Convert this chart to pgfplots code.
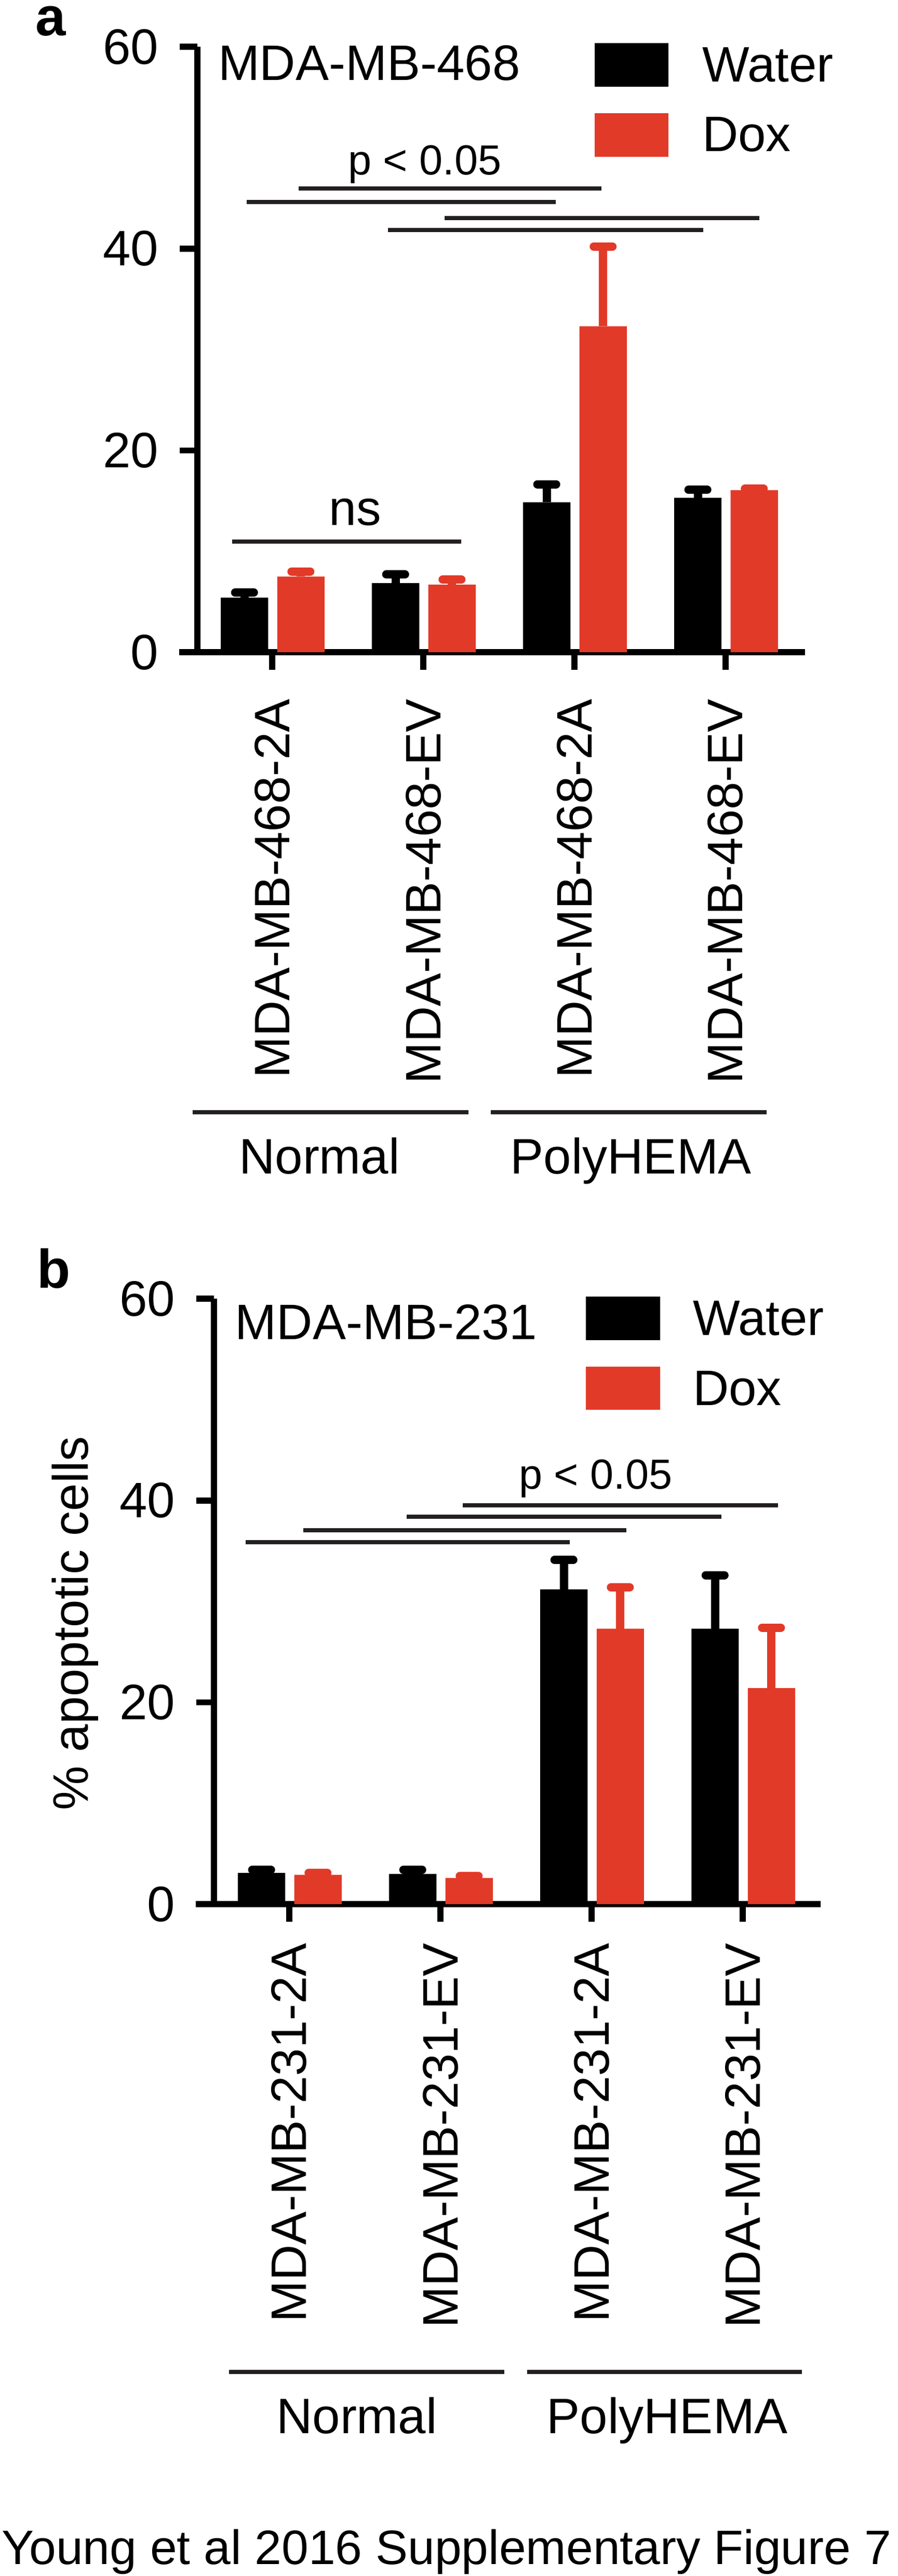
\documentclass[border=0pt]{standalone}
\usepackage{pgfplots}
\pgfplotsset{compat=1.18}
\usepackage{fontspec}
\setmainfont{Liberation Sans}
\definecolor{dred}{RGB}{226,58,40}
\definecolor{sig}{RGB}{35,31,32}
\newcommand{\fs}[1]{\fontsize{#1}{#1}\selectfont}

\pgfplotsset{
  gpstyle/.style={
    scale only axis, clip=false,
    anchor=south west,
    ymin=0, ymax=60,
    axis x line=bottom, axis y line=left,
    axis line style={-, line width=1.15pt, black},
    every outer x axis line/.append style={-},
    every outer y axis line/.append style={-},
    xtick={0,1,2,3}, ytick={0,20,40,60},
    minor tick num=0,
    tick align=outside, major tick length=3.4pt,
    tick style={line width=1.15pt, black},
    /pgf/number format/assume math mode=true,
    ticklabel style={font=\fs{9.6pt}, inner sep=0pt},
    yticklabel shift=3.9pt,
    xticklabel style={rotate=90, anchor=east},
  },
  wbar/.style={ybar, bar width=0.313, bar shift=0pt, fill=black, draw=none,
    error bars/.cd, y dir=plus, y explicit,
    error bar style={draw=black, line width=1.6pt},
    error mark options={rotate=90, draw=black, line width=1.6pt, mark size=1.8pt, line cap=round}},
  dbar/.style={ybar, bar width=0.313, bar shift=0pt, fill=dred, draw=none,
    error bars/.cd, y dir=plus, y explicit,
    error bar style={draw=dred, line width=1.6pt},
    error mark options={rotate=90, draw=dred, line width=1.6pt, mark size=1.8pt, line cap=round}},
}

\begin{document}
\begin{tikzpicture}
\path[use as bounding box] (0,0) rectangle (172.9pt,-496.1pt);

% ---------------- panel a ----------------
\begin{axis}[gpstyle,
  at={(38.0pt,-125.6pt)}, width=117.0pt, height=116.6pt,
  xmin=-0.495, xmax=3.526,
  xticklabel shift=5.4pt,
  xticklabels={MDA-MB-468-2A, MDA-MB-468-EV, MDA-MB-468-2A, MDA-MB-468-EV}]
\addplot[wbar] coordinates {
  (-0.183,5.4) +- (0,0.5)
  (0.817,6.85) +- (0,0.85)
  (1.817,14.85) +- (0,1.8)
  (2.817,15.3) +- (0,0.8)};
\addplot[dbar] coordinates {
  (0.19,7.5) +- (0,0.5)
  (1.19,6.7) +- (0,0.5)
  (2.19,32.3) +- (0,7.9)
  (3.19,16.05) +- (0,0.15)};
\draw[line width=1.15pt] (axis cs:-0.615,0) -- (axis cs:-0.495,0);
\end{axis}

\node[anchor=base west, inner sep=0pt, font=\fs{10.5pt}\bfseries] at (6.7pt,-6.8pt) {a};
\node[anchor=base west, inner sep=0pt, font=\fs{9.6pt}] at (41.8pt,-15.4pt) {MDA-MB-468};
\fill[black] (114.5pt,-8.3pt) rectangle (128.7pt,-16.7pt);
\fill[dred] (114.5pt,-21.8pt) rectangle (128.7pt,-30.2pt);
\node[anchor=base west, inner sep=0pt, font=\fs{9.6pt}] at (135.0pt,-15.7pt) {Water};
\node[anchor=base west, inner sep=0pt, font=\fs{9.6pt}] at (135.0pt,-29.1pt) {Dox};
\node[anchor=base, inner sep=0pt, font=\fs{8.1pt}] at (81.8pt,-33.6pt) {p < 0.05};
\begin{scope}[draw=sig, line width=0.8pt]
\draw (57.5pt,-36.25pt) -- (115.8pt,-36.25pt);
\draw (47.5pt,-38.9pt) -- (107.0pt,-38.9pt);
\draw (85.6pt,-42.0pt) -- (146.2pt,-42.0pt);
\draw (74.7pt,-44.3pt) -- (135.4pt,-44.3pt);
\draw (44.7pt,-104.3pt) -- (88.8pt,-104.3pt);
\draw (37.1pt,-214.2pt) -- (90.2pt,-214.2pt);
\draw (94.5pt,-214.2pt) -- (147.6pt,-214.2pt);
\end{scope}
\node[anchor=base, inner sep=0pt, font=\fs{9.5pt}] at (68.4pt,-101.1pt) {ns};
\node[anchor=base, inner sep=0pt, font=\fs{9.6pt}] at (61.5pt,-226.0pt) {Normal};
\node[anchor=base, inner sep=0pt, font=\fs{9.6pt}] at (121.5pt,-226.0pt) {PolyHEMA};

% ---------------- panel b ----------------
\begin{axis}[gpstyle,
  at={(41.2pt,-366.7pt)}, width=116.8pt, height=116.6pt,
  xmin=-0.498, xmax=3.515,
  xticklabel shift=3.9pt,
  xticklabels={MDA-MB-231-2A, MDA-MB-231-EV, MDA-MB-231-2A, MDA-MB-231-EV},
  ylabel={\% apoptotic cells},
  ylabel style={at={(axis description cs:-0.2072,0.464)}, anchor=base, inner sep=0pt, font=\fs{9.6pt}}]
\addplot[wbar] coordinates {
  (-0.183,3.1) +- (0,0.3)
  (0.817,3.0) +- (0,0.4)
  (1.817,31.2) +- (0,2.9)
  (2.817,27.3) +- (0,5.3)};
\addplot[dbar] coordinates {
  (0.19,2.9) +- (0,0.2)
  (1.19,2.6) +- (0,0.2)
  (2.19,27.3) +- (0,4.1)
  (3.19,21.4) +- (0,6.0)};
\draw[line width=1.15pt] (axis cs:-0.618,0) -- (axis cs:-0.498,0);
\end{axis}

\node[anchor=base west, inner sep=0pt, font=\fs{10.5pt}\bfseries] at (7.0pt,-248.0pt) {b};
\node[anchor=base west, inner sep=0pt, font=\fs{9.6pt}] at (45.1pt,-257.9pt) {MDA-MB-231};
\fill[black] (112.8pt,-249.7pt) rectangle (127.1pt,-258.1pt);
\fill[dred] (112.8pt,-263.2pt) rectangle (127.1pt,-271.5pt);
\node[anchor=base west, inner sep=0pt, font=\fs{9.6pt}] at (133.2pt,-257.1pt) {Water};
\node[anchor=base west, inner sep=0pt, font=\fs{9.6pt}] at (133.2pt,-270.6pt) {Dox};
\node[anchor=base, inner sep=0pt, font=\fs{8.1pt}] at (114.7pt,-286.7pt) {p < 0.05};
\begin{scope}[draw=sig, line width=0.8pt]
\draw (89.1pt,-289.9pt) -- (149.8pt,-289.9pt);
\draw (78.3pt,-292.1pt) -- (138.9pt,-292.1pt);
\draw (58.4pt,-294.7pt) -- (120.6pt,-294.7pt);
\draw (47.3pt,-297.0pt) -- (109.7pt,-297.0pt);
\draw (44.1pt,-456.8pt) -- (97.1pt,-456.8pt);
\draw (101.5pt,-456.8pt) -- (154.4pt,-456.8pt);
\end{scope}
\node[anchor=base, inner sep=0pt, font=\fs{9.6pt}] at (68.7pt,-468.6pt) {Normal};
\node[anchor=base, inner sep=0pt, font=\fs{9.6pt}] at (128.5pt,-468.6pt) {PolyHEMA};

\node[anchor=base west, inner sep=0pt, font=\fs{9.3pt}] at (0.1pt,-493.8pt) {Young et al 2016 Supplementary Figure 7};
\end{tikzpicture}
\end{document}
